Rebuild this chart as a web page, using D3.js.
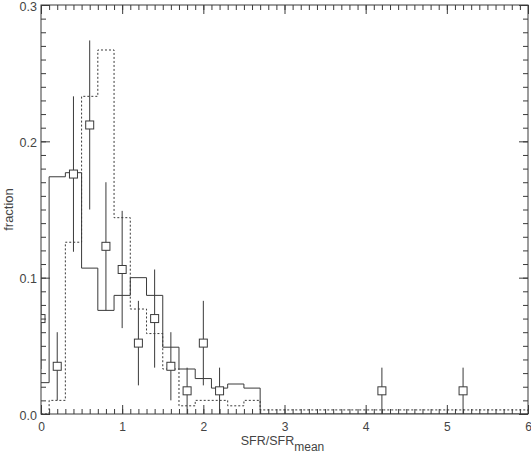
<!DOCTYPE html>
<html>
<head>
<meta charset="utf-8">
<script src="https://cdn.jsdelivr.net/npm/d3@7"></script>
<style>
  body { margin: 0; background: #fff; }
  text { font-family: "Liberation Sans", Arial, sans-serif; fill: #444; }
</style>
</head>
<body>
<script>
// histogram bins, centred on these values, width 0.2
const binCenters = [0, 0.2, 0.4, 0.6, 0.8, 1.0, 1.2, 1.4, 1.6, 1.8, 2.0, 2.2, 2.4, 2.6, 2.8, 3.0]
const solidHist  = [0.023, 0.174, 0.177, 0.107, 0.076, 0.087, 0.100, 0.087, 0.049, 0.033, 0.026, 0.019, 0.022, 0.019, 0, 0]
const dottedHist = [0, 0.010, 0.126, 0.233, 0.267, 0.144, 0.077, 0.059, 0.033, 0.006, 0.010, 0.010, 0.006, 0.010, 0.003, 0.003]

// points with error bars
const ptX   = [0, 0.2, 0.4, 0.6, 0.8, 1.0, 1.2, 1.4, 1.6, 1.8, 2.0, 2.2, 4.2, 5.2]
const ptY   = [0.070, 0.035, 0.176, 0.212, 0.123, 0.106, 0.052, 0.070, 0.035, 0.017, 0.052, 0.017, 0.017, 0.017]
const ptErr = [0.037, 0.025, 0.057, 0.062, 0.047, 0.043, 0.031, 0.036, 0.025, 0.017, 0.031, 0.017, 0.017, 0.017]

const xTicks = [0, 1, 2, 3, 4, 5, 6]
const yTicks = [0, 0.1, 0.2, 0.3]
const yTickLabels = ['0.0', '0.1', '0.2', '0.3']

const w = 531
const h = 454
const mLeft = 41, mRight = 528, mTop = 5, mBottom = 414
const ink = '#3a3a3a'

const svg = d3.select('body')
    .append('svg')
    .attr('width', w)
    .attr('height', h)

const xScale = d3.scaleLinear().domain([0, 6]).range([mLeft, mRight])
const yScale = d3.scaleLinear().domain([0, 0.3]).range([mBottom, mTop])

svg.append('clipPath').attr('id', 'plot')
    .append('rect')
    .attr('x', mLeft).attr('y', mTop)
    .attr('width', mRight - mLeft).attr('height', mBottom - mTop)

const plot = svg.append('g').attr('clip-path', 'url(#plot)')

// step line like IDL psym=10
const stepPoints = vals => {
    const pts = binCenters.map((c, i) => [Math.max(0, c - 0.1), vals[i]])
    pts.push([binCenters[binCenters.length - 1] + 0.1, vals[vals.length - 1]])
    pts.push([6, 0])
    return pts
}
const step = d3.line()
    .x(d => xScale(d[0]))
    .y(d => yScale(d[1]))
    .curve(d3.curveStepAfter)

plot.append('path')
    .attr('d', step(stepPoints(dottedHist)))
    .attr('fill', 'none')
    .attr('stroke', ink)
    .attr('stroke-width', 1)
    .attr('stroke-dasharray', '2,2')

plot.append('path')
    .attr('d', step(stepPoints(solidHist)))
    .attr('fill', 'none')
    .attr('stroke', ink)
    .attr('stroke-width', 1)

const pts = ptX.map((x, i) => ({ x: x, y: ptY[i], e: ptErr[i] }))

plot.selectAll('line.err')
    .data(pts)
    .enter()
    .append('line')
    .attr('class', 'err')
    .attr('x1', d => xScale(d.x))
    .attr('x2', d => xScale(d.x))
    .attr('y1', d => yScale(Math.max(0, d.y - d.e)))
    .attr('y2', d => yScale(d.y + d.e))
    .attr('stroke', ink)
    .attr('stroke-width', 1)

plot.selectAll('rect.pt')
    .data(pts)
    .enter()
    .append('rect')
    .attr('class', 'pt')
    .attr('x', d => xScale(d.x) - 4)
    .attr('y', d => yScale(d.y) - 4)
    .attr('width', 8)
    .attr('height', 8)
    .attr('fill', '#fff')
    .attr('stroke', ink)
    .attr('stroke-width', 1)

// axes, ticks pointing inward on all four sides
const xMinor = d3.range(0, 61).map(d => d / 10)
const yMinor = d3.range(0, 31).map(d => d / 100)

const styleAxis = g => {
    g.select('.domain').remove()
    g.selectAll('line').attr('stroke', ink)
    g.selectAll('text').attr('font-size', 12).attr('fill', '#444')
}

svg.append('g').attr('transform', `translate(0,${mBottom})`)
    .call(d3.axisBottom(xScale).tickValues(xTicks).tickSize(-9).tickPadding(8).tickFormat(d3.format('d')))
    .call(styleAxis)
svg.append('g').attr('transform', `translate(0,${mBottom})`)
    .call(d3.axisBottom(xScale).tickValues(xMinor).tickSize(-5).tickFormat(''))
    .call(styleAxis)
svg.append('g').attr('transform', `translate(0,${mTop})`)
    .call(d3.axisTop(xScale).tickValues(xTicks).tickSize(-9).tickFormat(''))
    .call(styleAxis)
svg.append('g').attr('transform', `translate(0,${mTop})`)
    .call(d3.axisTop(xScale).tickValues(xMinor).tickSize(-5).tickFormat(''))
    .call(styleAxis)

svg.append('g').attr('transform', `translate(${mLeft},0)`)
    .call(d3.axisLeft(yScale).tickValues(yTicks).tickSize(-9).tickPadding(4).tickFormat((d, i) => yTickLabels[i]))
    .call(styleAxis)
    .call(g => g.selectAll('text').attr('dy', '0.42em').attr('font-size', 12.5))
svg.append('g').attr('transform', `translate(${mLeft},0)`)
    .call(d3.axisLeft(yScale).tickValues(yMinor).tickSize(-5).tickFormat(''))
    .call(styleAxis)
svg.append('g').attr('transform', `translate(${mRight},0)`)
    .call(d3.axisRight(yScale).tickValues(yTicks).tickSize(-9).tickFormat(''))
    .call(styleAxis)
svg.append('g').attr('transform', `translate(${mRight},0)`)
    .call(d3.axisRight(yScale).tickValues(yMinor).tickSize(-5).tickFormat(''))
    .call(styleAxis)

svg.append('rect')
    .attr('x', mLeft).attr('y', mTop)
    .attr('width', mRight - mLeft).attr('height', mBottom - mTop)
    .attr('fill', 'none')
    .attr('stroke', ink)
    .attr('stroke-width', 1)

// axis titles
const xt = svg.append('text')
    .attr('x', (mLeft + mRight) / 2 - 2)
    .attr('y', 445)
    .attr('text-anchor', 'middle')
    .attr('font-size', 12.5)
xt.append('tspan').text('SFR/SFR')
xt.append('tspan').attr('font-size', 12).attr('dy', 6).text('mean')

svg.append('text')
    .attr('transform', `translate(13,${(mTop + mBottom) / 2}) rotate(-90)`)
    .attr('text-anchor', 'middle')
    .attr('font-size', 13)
    .text('fraction')
</script>
</body>
</html>
